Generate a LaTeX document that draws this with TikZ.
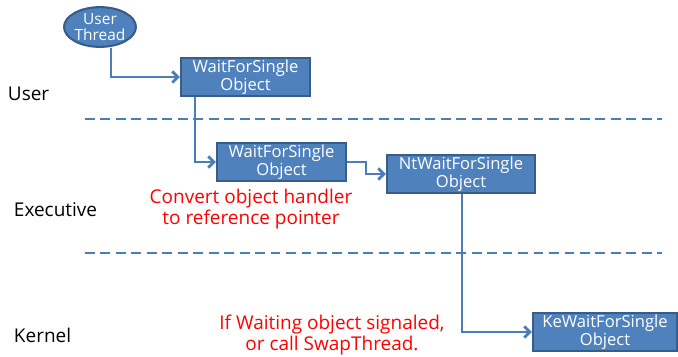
\documentclass[tikz,border=0pt]{standalone}
\usepackage{fontspec}
\setmainfont{Open Sans}
\usetikzlibrary{shapes.geometric, arrows.meta}

\definecolor{boxfill}{HTML}{4F81BD}
\definecolor{boxline}{HTML}{385D8A}
\definecolor{linkblue}{HTML}{4A7EBB}

\begin{document}
\begin{tikzpicture}[x=0.025cm, y=-0.025cm, font=\small,
    fn/.style={draw=boxline, fill=boxfill, line width=1.5pt, text=white,
        minimum width=129*0.025cm, minimum height=38*0.025cm, inner sep=0pt,
        align=center, font=\fontsize{11.8}{12.6}\selectfont},
    link/.style={draw=linkblue, line width=2pt, -{Straight Barb[length=4pt, width=8pt]}},
    sep/.style={draw=linkblue, line width=2pt, dash pattern=on 7pt off 4pt},
    layer/.style={anchor=west, font=\fontsize{13.5}{15}\selectfont},
    note/.style={text=red, align=center, font=\fontsize{13.5}{15.5}\selectfont}]

    \useasboundingbox (0,0) rectangle (678,356);

    \node[ellipse, draw=boxline, fill=boxfill, line width=1.5pt, text=white,
        minimum width=68*0.025cm, minimum height=38*0.025cm, inner sep=0pt,
        align=center, font=\fontsize{11}{12}\selectfont] (thread) at (100,27) {User\\Thread};

    \node[fn] (wfso1) at (245.5,77) {WaitForSingle\\Object};
    \node[fn] (wfso2) at (281.5,162) {WaitForSingle\\Object};
    \node[fn, minimum width=148*0.025cm] (ntwfso) at (461,174) {NtWaitForSingle\\Object};
    \node[fn, minimum width=144*0.025cm] (kewfso) at (605,332) {KeWaitForSingle\\Object};

    \node[layer] (user) at (3,93.5) {User};
    \node[layer] (exec) at (9,210) {Executive};
    \node[layer] (kern) at (9,335) {Kernel};

    \coordinate (s1a) at (85,119);
    \coordinate (s1b) at (662,119);
    \coordinate (s2a) at (85,253);
    \coordinate (s2b) at (662,253);
    \draw[sep] (s1a) -- (s1b);
    \draw[sep] (s2a) -- (s2b);

    \draw[link] (thread.south -| 111,0) |- (wfso1.west);
    \draw[link] (wfso1.south -| 195,0) |- (wfso2.west);
    \draw[link] (wfso2.east) -- ++(19,0) |- (ntwfso.west);
    \draw[link] (ntwfso.south -| 462,0) |- (kewfso.west);

    \node[note] (conv) at (251,209) {Convert object handler\\to reference pointer};
    \node[note] (swap) at (332,335) {If Waiting object signaled,\\or call SwapThread.};

\end{tikzpicture}
\end{document}
